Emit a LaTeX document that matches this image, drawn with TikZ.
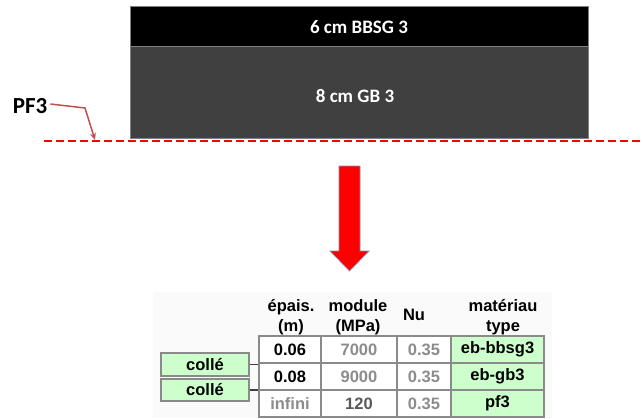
\documentclass[tikz,border=0pt]{standalone}
\usepackage{fontspec}
\setmainfont{Liberation Sans}
\newfontfamily\calibri{Carlito}
\usetikzlibrary{arrows.meta}
\definecolor{layerdark}{HTML}{404040}
\definecolor{cellgreen}{HTML}{CCFFCC}
\definecolor{gridgray}{HTML}{8A8A8A}
\definecolor{valgray}{HTML}{8C8C8C}
\definecolor{leadred}{HTML}{C0504D}
\definecolor{arrowedge}{HTML}{7F8FB0}
\definecolor{backdrop}{HTML}{FAFAFA}

\begin{document}
\begin{tikzpicture}[x=1pt,y=-1pt,
  layer/.style={draw=gray,line width=0.8pt,inner sep=0,minimum width=458pt},
  layertxt/.style={text=white,inner sep=0,font=\calibri\bfseries\fontsize{19}{19}\selectfont},
  cell/.style={draw=gridgray,line width=1.6pt,minimum height=27pt,inner sep=0,
    font=\bfseries\fontsize{16.5}{20}\selectfont},
  cA/.style={cell,minimum width=62pt},
  cB/.style={cell,minimum width=76pt,text=valgray},
  cC/.style={cell,minimum width=54pt,text=valgray},
  cD/.style={cell,minimum width=93pt,fill=cellgreen},
  head/.style={align=center,inner sep=0,font=\bfseries\fontsize{16.5}{20}\selectfont},
  bond/.style={draw=gridgray,line width=1.6pt,fill=cellgreen,minimum width=88pt,inner sep=0,
    font=\bfseries\fontsize{16.5}{20}\selectfont},
  conn/.style={draw=black!75,line width=1.5pt},
  leader/.style={draw=leadred,line width=1.5pt,-{Stealth[length=7pt,width=6pt]}},
  groundline/.style={draw=red,line width=2.8pt,dash pattern=on 8pt off 4pt}
]
\useasboundingbox (0,0) rectangle (643,418);

% pavement layers
\node[layer,fill=black,minimum height=40pt] (l1) at (359,26) {};
\node[layer,fill=layerdark,minimum height=92pt] (l2) at (359,92) {};
\node[layertxt] (t1) at (359,27) {6 cm BBSG 3};
\node[layertxt] (t2) at (355,96) {8 cm GB 3};

% platform line and its label
\coordinate (gl) at (44,141);
\coordinate (gr) at (643,141);
\draw[groundline] (gl) -- (gr);
\node[inner sep=0,font=\calibri\bfseries\fontsize{23}{23}\selectfont] (pf) at (30,106) {PF3};
\coordinate (pfend) at (95,140);
\draw[leader] ([xshift=3pt,yshift=2pt]pf.east) -- (85,108) -- (pfend);

% big downward arrow
\fill[red,draw=arrowedge,line width=0.7pt]
  (339,166) -- (360,166) -- (360,251) -- (369,251) -- (349.5,271)
  -- (330,251) -- (339,251) -- cycle;

% table backdrop
\fill[backdrop] (153,292) rectangle (552,418);

% header
\node[head] (h1) at (291,317) {épais.\\(m)};
\node[head] (h2) at (358,317) {module\\(MPa)};
\node[head] (h3) at (414,315) {Nu};
\node[head] (h4) at (503,317) {matériau\\type};

% table body
\node[cA,fill=white] (a1) at (290,349.5) {0.06};
\node[cB,fill=white] (b1) at (359,349.5) {7000};
\node[cC,fill=white] (c1) at (424,349.5) {0.35};
\node[cD] (d1) at (497.5,349.5) {eb-bbsg3};
\node[cA,fill=white] (a2) at (290,376.5) {0.08};
\node[cB,fill=white] (b2) at (359,376.5) {9000};
\node[cC,fill=white] (c2) at (424,376.5) {0.35};
\node[cD] (d2) at (497.5,376.5) {eb-gb3};
\node[cA,fill=white,text=valgray] (a3) at (290,403.5) {infini};
\node[cB,fill=white,text=black!65] (b3) at (359,403.5) {120};
\node[cC,fill=white] (c3) at (424,403.5) {0.35};
\node[cD] (d3) at (497.5,403.5) {pf3};

% interface conditions
\node[bond,minimum height=23pt] (i1) at (205,364.5) {collé};
\node[bond,minimum height=22pt] (i2) at (205,390) {collé};
\draw[conn] (i1.east) -- (i1.east -| a1.west);
\draw[conn] (i2.east) -- (i2.east -| a1.west);
\end{tikzpicture}
\end{document}
